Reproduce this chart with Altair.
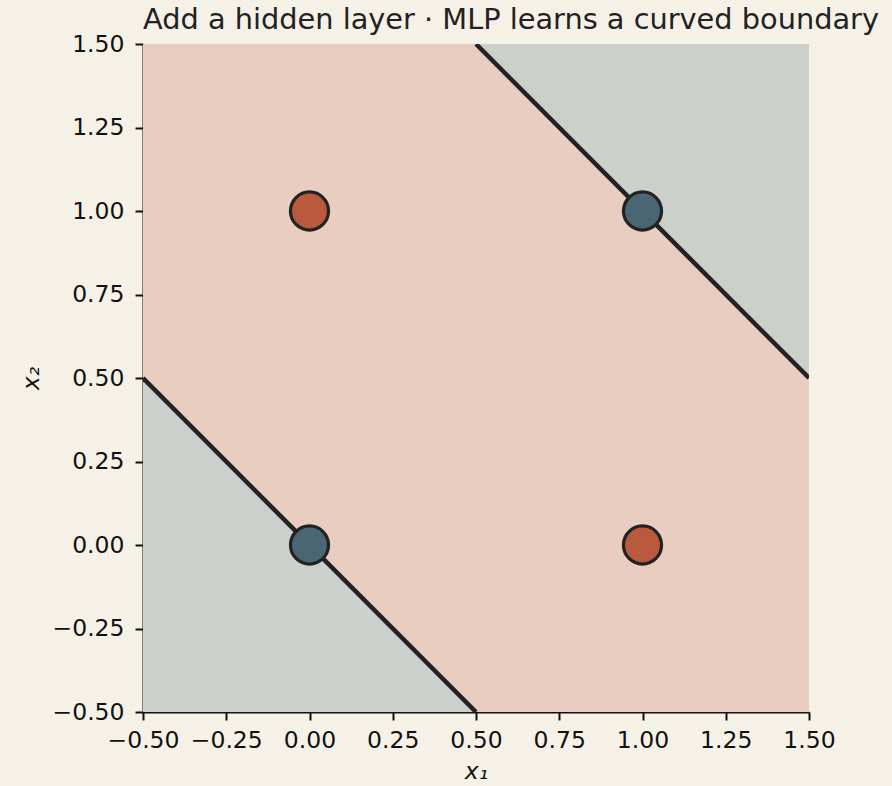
import altair as alt
import pandas as pd

# data
pt_x1 = [0, 1, 0, 1]
pt_x2 = [0, 1, 1, 0]
pt_cls = ["0", "0", "1", "1"]

# boundary lines (x1 + x2 = 0 and x1 + x2 = 2)
line_id = ["a", "a", "b", "b"]
line_x1 = [-0.5, 0.5, 0.5, 1.5]
line_x2 = [0.5, -0.5, 1.5, 0.5]

# grey regions (triangles) : x, lower y, upper y
reg_id = ["lo", "lo", "hi", "hi"]
reg_x = [-0.5, 0.5, 0.5, 1.5]
reg_y = [-0.5, -0.5, 1.5, 0.5]
reg_y2 = [0.5, -0.5, 1.5, 1.5]

ticks = [-0.5, -0.25, 0.0, 0.25, 0.5, 0.75, 1.0, 1.25, 1.5]
DOM = [-0.5, 1.5]

BG = "#f6f1e7"
SALMON = "#e8cdc0"
GREY = "#cbd0ca"
BLUE = "#4a6673"
ORANGE = "#b95a3f"
INK = "#222222"
FONT = "DejaVu Sans"

xs = alt.Scale(domain=DOM, nice=False, zero=False)
ys = alt.Scale(domain=DOM, nice=False, zero=False)

xaxis = alt.Axis(values=ticks, format=".2f", title="x₁", grid=False)
yaxis = alt.Axis(values=ticks, format=".2f", title="x₂", grid=False)

bg = alt.Chart(pd.DataFrame({"x": [DOM[0]], "x2": [DOM[1]], "y": [DOM[0]], "y2": [DOM[1]]})).mark_rect(
    color=SALMON
).encode(
    x=alt.X("x:Q", scale=xs, axis=xaxis),
    x2="x2",
    y=alt.Y("y:Q", scale=ys, axis=yaxis),
    y2="y2",
)

regions = alt.Chart(pd.DataFrame({"id": reg_id, "x": reg_x, "y": reg_y, "y2": reg_y2})).mark_area(
    color=GREY, opacity=1, clip=True
).encode(
    x=alt.X("x:Q", scale=xs),
    y=alt.Y("y:Q", scale=ys),
    y2="y2:Q",
    detail="id:N",
)

lines = alt.Chart(pd.DataFrame({"id": line_id, "x": line_x1, "y": line_x2})).mark_line(
    color=INK, strokeWidth=4.5, clip=True
).encode(
    x=alt.X("x:Q", scale=xs),
    y=alt.Y("y:Q", scale=ys),
    detail="id:N",
)

points = alt.Chart(pd.DataFrame({"x": pt_x1, "y": pt_x2, "c": pt_cls})).mark_circle(
    size=1450, opacity=1, stroke=INK, strokeWidth=3.2
).encode(
    x=alt.X("x:Q", scale=xs),
    y=alt.Y("y:Q", scale=ys),
    color=alt.Color("c:N", scale=alt.Scale(domain=["0", "1"], range=[BLUE, ORANGE]), legend=None),
)

chart = alt.layer(bg, regions, lines, points).properties(
    width=666,
    height=668,
    autosize=alt.AutoSizeParams(type="none"),
    padding={"left": 143, "top": 44, "right": 83, "bottom": 74},
    title=alt.Title(
        "Add a hidden layer · MLP learns a curved boundary",
        anchor="start",
        frame="group",
        font=FONT,
        fontSize=28.8,
        fontWeight="normal",
        color=INK,
        offset=-3,
    ),
).configure(background=BG).configure_view(strokeWidth=0).configure_axis(
    labelFont=FONT,
    labelFontSize=23.5,
    labelColor="#111111",
    titleFont=FONT,
    titleFontSize=23.5,
    titleFontWeight="normal",
    titleFontStyle="italic",
    titleColor="#111111",
    domainColor="#111111",
    domainWidth=2,
    tickColor="#111111",
    tickWidth=2,
    tickSize=8,
    labelFlush=False,
    labelOverlap=False,
    zindex=1,
).configure_axisX(labelPadding=8, titlePadding=8).configure_axisY(labelPadding=11, titlePadding=8)

chart.save("out.html", embed_options={"renderer": "svg", "actions": False})
